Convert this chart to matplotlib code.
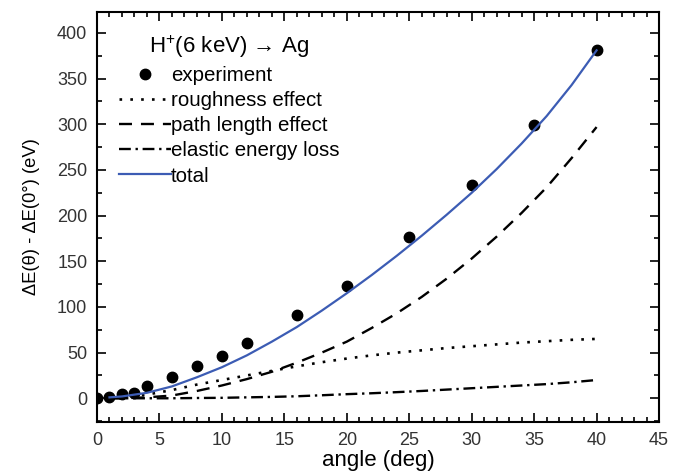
"""
Energy loss vs. tilt angle for H+ (6 keV) on Ag
"""

import matplotlib
matplotlib.use("Agg")
from matplotlib import pyplot as plt
from matplotlib.ticker import MultipleLocator

plt.rcParams['font.family'] = ['Liberation Sans', 'DejaVu Sans']
plt.rcParams['mathtext.fontset'] = 'custom'
plt.rcParams['mathtext.rm'] = 'Liberation Sans'

# experiment
exp_angle = [0, 1, 2, 3, 4, 6, 8, 10, 12, 16, 20, 25, 30, 35, 40]
exp_de = [0, 1.5, 5, 6, 13, 23, 35, 46, 61, 91, 123, 177, 233, 299, 381]

# model curves
angle = [1, 2, 4, 6, 8, 10, 12, 14, 16, 18, 20, 22, 24, 26, 28, 30, 32, 34, 36, 38, 40]
roughness = [0.5, 1, 4, 9, 15, 20, 25, 30, 35, 39.5, 43.5, 47, 50, 52.5, 55, 57, 59, 61, 62.5, 64, 65]
path_length = [0, 0, 1, 3, 8, 14, 21, 29, 39, 50, 62, 77, 93, 111, 131, 153, 177, 203, 231, 263, 297]
elastic = [0, 0, 0, 0, 0.3, 0.5, 1, 1.5, 2.2, 3.3, 4.5, 5.5, 6.7, 8, 9.5, 11, 12.5, 14, 15.5, 17.5, 20]
total = [1, 2, 6, 13, 23, 34, 47, 62, 78, 96, 115, 135, 156, 178, 201, 225, 251, 279, 309, 343, 381]

fig = plt.figure(figsize=(6.84, 4.72), dpi=100)
ax = fig.add_axes([0.1418, 0.1059, 0.8217, 0.8687])

ax.plot(exp_angle, exp_de, 'o', color='black', markersize=7.5, label='experiment')
ax.plot(angle, roughness, color='black', lw=1.9, dashes=(1, 3.1), label='roughness effect')
ax.plot(angle, path_length, color='black', lw=1.7, dashes=(5.5, 3.8), label='path length effect')
ax.plot(angle, elastic, color='black', lw=1.7, dashes=(5, 2, 1, 2), label='elastic energy loss')
ax.plot(angle, total, color='#3c5cb4', lw=1.6, label='total')

ax.set_xlim(0, 45)
ax.set_ylim(-26, 423)
ax.xaxis.set_major_locator(MultipleLocator(5))
ax.xaxis.set_minor_locator(MultipleLocator(1))
ax.yaxis.set_major_locator(MultipleLocator(50))
ax.yaxis.set_minor_locator(MultipleLocator(25))
ax.tick_params(which='both', direction='in', top=True, right=True,
               labelsize=13, labelcolor='#333333', width=1.2)
ax.tick_params(which='major', length=6.5, pad=7)
ax.tick_params(which='minor', length=3.5)
for s in ax.spines.values():
    s.set_linewidth(1.5)

ax.set_xlabel('angle (deg)', fontsize=16, labelpad=1)
ax.set_ylabel('ΔE(θ) - ΔE(0°) (eV)', fontsize=13.2, labelpad=12)

leg = ax.legend(loc='upper left', bbox_to_anchor=(0.025, 0.968), frameon=False,
                fontsize=14.8, handlelength=2.5, handletextpad=0.0,
                labelspacing=0.3, borderaxespad=0,
                title='H$^{+}$(6 keV) → Ag', title_fontsize=16)
leg._legend_box.align = 'center'

fig.savefig('out.png', dpi=100)
